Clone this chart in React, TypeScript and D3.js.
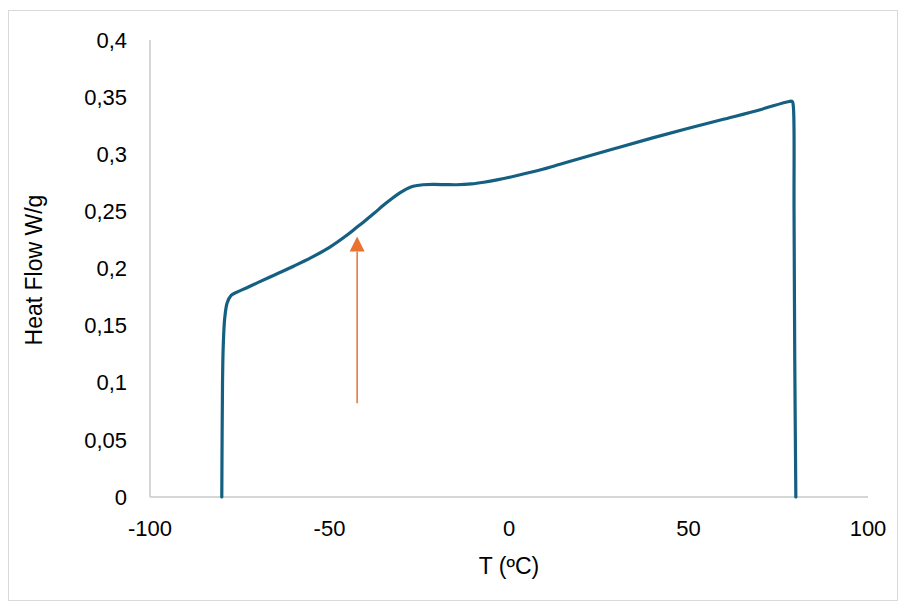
import React from "react";
import * as d3 from "d3";

const temperature = [
  -80.0, -79.9, -79.8, -79.6, -79.2, -78.5, -77.4, -76.0, -73.0, -70.0, -65.0, -60.0, -55.0,
  -50.0, -45.0, -42.4, -40.0, -37.5, -35.0, -32.5, -30.4, -28.5, -26.7, -24.0, -21.0, -17.5,
  -14.6, -10.5, -7.0, -3.0, 2.0, 8.6, 14.0, 20.0, 30.0, 40.0, 50.0, 60.0, 70.0, 78.0, 78.9,
  79.2, 79.4, 79.6, 79.9,
];
const heatFlow = [
  0.0, 0.06, 0.1, 0.132, 0.156, 0.17, 0.1765, 0.179, 0.1832, 0.1876, 0.1948, 0.202, 0.2097,
  0.2185, 0.2295, 0.236, 0.242, 0.2485, 0.2553, 0.2615, 0.2662, 0.2697, 0.272, 0.2733, 0.2736,
  0.2734, 0.2733, 0.274, 0.2755, 0.2778, 0.2812, 0.2862, 0.291, 0.2965, 0.3055, 0.3143, 0.3227,
  0.3308, 0.339, 0.3462, 0.3462, 0.342, 0.25, 0.12, 0.0,
];
const xTicks = [-100, -50, 0, 50, 100];
const yTicks = [0, 0.05, 0.1, 0.15, 0.2, 0.25, 0.3, 0.35, 0.4];
const arrowX = -42.3;
const arrowFrom = 0.082;
const arrowTo = 0.228;

const fmt = (v: number) => String(+v.toFixed(2)).replace(".", ",");

export default function App() {
  const x = d3.scaleLinear().domain([-100, 100]).range([150, 868]);
  const y = d3.scaleLinear().domain([0, 0.4]).range([497, 40]);
  const pts: [number, number][] = temperature.map((t, i) => [x(t), y(heatFlow[i])]);
  const line = d3.line().curve(d3.curveCatmullRom.alpha(0.5))(pts) || "";
  const ax = x(arrowX);
  const tipY = y(arrowTo);
  const baseY = tipY + 15;
  const font = "'Liberation Sans', Arial, sans-serif";
  return (
    <svg
      width={906}
      height={609}
      style={{ position: "absolute", left: 0, top: 0, background: "#fff" }}
      fontFamily={font}
    >
      <rect x={8.5} y={10.5} width={889} height={590} fill="#fff" stroke="#D9D9D9" strokeWidth={1} />
      <line x1={150} x2={150} y1={40} y2={497} stroke="#C8C8C8" strokeWidth={1.5} />
      <line x1={150} x2={868} y1={497} y2={497} stroke="#C8C8C8" strokeWidth={1.5} />
      {yTicks.map((v) => (
        <text key={v} x={127} y={y(v)} dy="0.35em" textAnchor="end" fontSize={22} fill="#000">
          {fmt(v)}
        </text>
      ))}
      {xTicks.map((v) => (
        <text key={v} x={x(v)} y={528} dy="0.35em" textAnchor="middle" fontSize={22} fill="#000">
          {v}
        </text>
      ))}
      <text x={509} y={574} textAnchor="middle" fontSize={23} fill="#000">
        T (ºC)
      </text>
      <text
        transform={`translate(42,${270}) rotate(-90)`}
        textAnchor="middle"
        fontSize={23}
        fill="#000"
      >
        Heat Flow W/g
      </text>
      <path d={line} fill="none" stroke="#156082" strokeWidth={3.2} strokeLinejoin="round" strokeLinecap="round" />
      <line x1={ax} x2={ax} y1={y(arrowFrom)} y2={baseY} stroke="#E97132" strokeWidth={1.5} />
      <path d={`M${ax},${tipY} L${ax - 7.5},${baseY} L${ax + 7.5},${baseY} Z`} fill="#E97132" />
    </svg>
  );
}
